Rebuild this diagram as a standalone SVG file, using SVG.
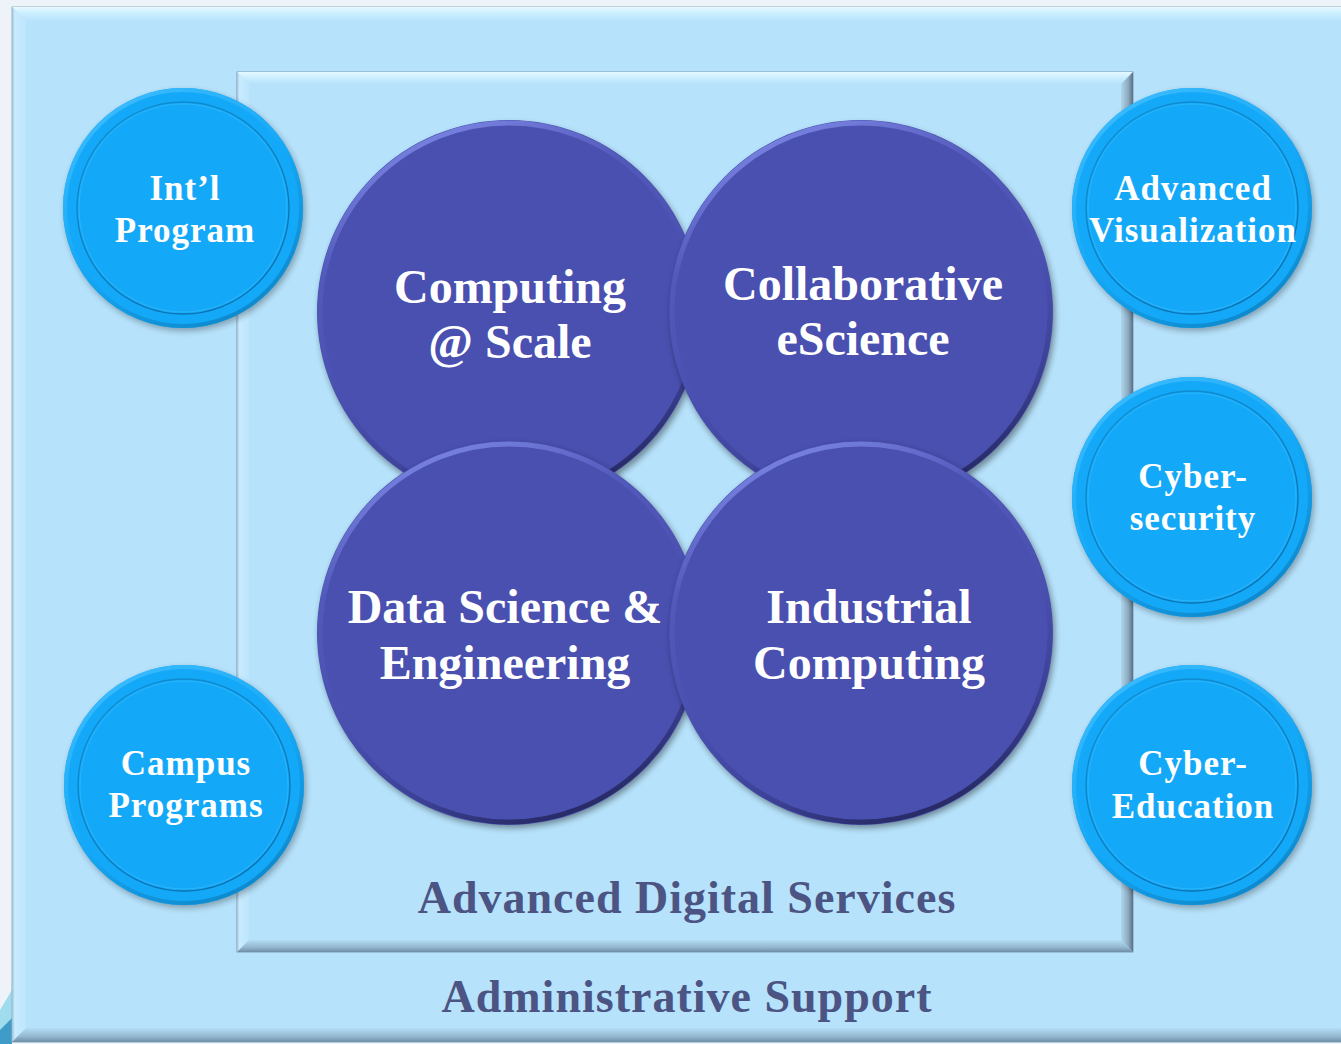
<svg xmlns="http://www.w3.org/2000/svg" width="1341" height="1044" viewBox="0 0 1341 1044">
<defs>
<style>
.big{font-family:"Liberation Serif","Times New Roman",serif;font-weight:bold;font-size:48px;fill:#ffffff;text-anchor:middle}
.small{font-family:"Liberation Serif","Times New Roman",serif;font-weight:bold;font-size:35px;fill:#ffffff;text-anchor:middle;letter-spacing:1px}
.lab{font-family:"Liberation Serif","Times New Roman",serif;font-weight:bold;font-size:46px;fill:#4b5482;text-anchor:middle;letter-spacing:1px}
.bigfill{fill:#4a50b0}
.smallfill{fill:#14a9f8}
</style>
<linearGradient id="topBand" x1="0" y1="0" x2="0" y2="1">
<stop offset="0" stop-color="#e6f8ff"/><stop offset="0.4" stop-color="#cdf0ff"/><stop offset="1" stop-color="#b8e2fb"/>
</linearGradient>
<linearGradient id="botBand" x1="0" y1="0" x2="0" y2="1">
<stop offset="0" stop-color="#b4dcf4"/><stop offset="0.6" stop-color="#93b8d0"/><stop offset="1" stop-color="#6f8ea6"/>
</linearGradient>
<linearGradient id="leftBand" x1="0" y1="0" x2="1" y2="0">
<stop offset="0" stop-color="#9fbfd4"/><stop offset="0.2" stop-color="#c8ecff"/><stop offset="1" stop-color="#bde5fc"/>
</linearGradient>
<linearGradient id="rightBand" x1="0" y1="0" x2="1" y2="0">
<stop offset="0" stop-color="#b0d6ec"/><stop offset="0.6" stop-color="#8caac0"/><stop offset="1" stop-color="#5a7088"/>
</linearGradient>
<linearGradient id="rimBig" x1="0.3" y1="0" x2="0.7" y2="1">
<stop offset="0" stop-color="#7a84e2"/><stop offset="0.25" stop-color="#5159ba"/><stop offset="0.55" stop-color="#4a50b0"/><stop offset="0.8" stop-color="#3c4196"/><stop offset="1" stop-color="#23275e"/>
</linearGradient>
<linearGradient id="rimSmall" x1="0.2" y1="0" x2="0.8" y2="1">
<stop offset="0" stop-color="#3cbcff"/><stop offset="0.5" stop-color="#16a8f6"/><stop offset="1" stop-color="#0d86c8"/>
</linearGradient>
<linearGradient id="ringSmall" x1="0.2" y1="0" x2="0.8" y2="1">
<stop offset="0" stop-color="#0f8fd4"/><stop offset="1" stop-color="#0a6fae"/>
</linearGradient>
<filter id="shadow" x="-20%" y="-20%" width="140%" height="140%">
<feGaussianBlur stdDeviation="3"/>
</filter>
</defs>

<rect x="0" y="0" width="1341" height="1044" fill="#eef3f9"/>
<polygon points="0,1010 12,990 12,1044 0,1044" fill="#9fdcee"/>
<polygon points="0,1030 12,1018 12,1044 0,1044" fill="#3f9cc8"/>

<g id="outer-panel">
<rect x="12" y="7" width="1340" height="1035" fill="#b6e2fb" stroke="#90aec2" stroke-width="1"/>
<polygon points="12,7 1345,7 1345,21 26,21" fill="url(#topBand)"/>
<polygon points="12,7 26,21 26,1028 12,1042" fill="url(#leftBand)"/>
<polygon points="12,1042 26,1028 1345,1028 1345,1042" fill="url(#botBand)"/>
<text class="lab" x="687" y="1012">Administrative Support</text>
</g>

<g id="inner-panel">
<rect x="237" y="72" width="896" height="880" fill="#b6e2fb" stroke="#7f9ab0" stroke-width="1"/>
<polygon points="237,72 1133,72 1121,84 249,84" fill="url(#topBand)"/>
<polygon points="237,72 249,84 249,940 237,952" fill="url(#leftBand)"/>
<polygon points="1133,72 1133,952 1121,940 1121,84" fill="url(#rightBand)"/>
<polygon points="237,952 1133,952 1121,940 249,940" fill="url(#botBand)"/>
<text class="lab" x="687" y="913">Advanced Digital Services</text>
</g>

<g id="connectors"/>

<g id="node-intl">
<circle cx="185" cy="211" r="120" fill="#000" opacity="0.3" filter="url(#shadow)"/>
<circle cx="183" cy="208" r="120" class="smallfill"/>
<circle cx="183" cy="208" r="118" fill="none" stroke="url(#rimSmall)" stroke-width="4"/>
<circle cx="183" cy="208" r="106" fill="none" stroke="url(#ringSmall)" stroke-width="1.4"/>
<circle cx="183" cy="208" r="104" fill="none" stroke="#2ab4fb" stroke-width="1"/>
<text class="small" x="185" y="200">Int’l</text>
<text class="small" x="185" y="242">Program</text>
</g>

<g id="node-campus">
<circle cx="186" cy="788" r="120" fill="#000" opacity="0.3" filter="url(#shadow)"/>
<circle cx="184" cy="785" r="120" class="smallfill"/>
<circle cx="184" cy="785" r="118" fill="none" stroke="url(#rimSmall)" stroke-width="4"/>
<circle cx="184" cy="785" r="106" fill="none" stroke="url(#ringSmall)" stroke-width="1.4"/>
<circle cx="184" cy="785" r="104" fill="none" stroke="#2ab4fb" stroke-width="1"/>
<text class="small" x="186" y="775">Campus</text>
<text class="small" x="186" y="817">Programs</text>
</g>

<g id="node-vis">
<circle cx="1194" cy="211" r="120" fill="#000" opacity="0.3" filter="url(#shadow)"/>
<circle cx="1192" cy="208" r="120" class="smallfill"/>
<circle cx="1192" cy="208" r="118" fill="none" stroke="url(#rimSmall)" stroke-width="4"/>
<circle cx="1192" cy="208" r="106" fill="none" stroke="url(#ringSmall)" stroke-width="1.4"/>
<circle cx="1192" cy="208" r="104" fill="none" stroke="#2ab4fb" stroke-width="1"/>
<text class="small" x="1193" y="200">Advanced</text>
<text class="small" x="1193" y="242">Visualization</text>
</g>

<g id="node-cybersecurity">
<circle cx="1194" cy="500" r="120" fill="#000" opacity="0.3" filter="url(#shadow)"/>
<circle cx="1192" cy="497" r="120" class="smallfill"/>
<circle cx="1192" cy="497" r="118" fill="none" stroke="url(#rimSmall)" stroke-width="4"/>
<circle cx="1192" cy="497" r="106" fill="none" stroke="url(#ringSmall)" stroke-width="1.4"/>
<circle cx="1192" cy="497" r="104" fill="none" stroke="#2ab4fb" stroke-width="1"/>
<text class="small" x="1193" y="488">Cyber-</text>
<text class="small" x="1193" y="530">security</text>
</g>

<g id="node-cybereducation">
<circle cx="1194" cy="788" r="120" fill="#000" opacity="0.3" filter="url(#shadow)"/>
<circle cx="1192" cy="785" r="120" class="smallfill"/>
<circle cx="1192" cy="785" r="118" fill="none" stroke="url(#rimSmall)" stroke-width="4"/>
<circle cx="1192" cy="785" r="106" fill="none" stroke="url(#ringSmall)" stroke-width="1.4"/>
<circle cx="1192" cy="785" r="104" fill="none" stroke="#2ab4fb" stroke-width="1"/>
<text class="small" x="1193" y="775">Cyber-</text>
<text class="small" x="1193" y="818">Education</text>
</g>

<g id="node-computing-scale">
<circle cx="511" cy="316" r="192" fill="#000" opacity="0.4" filter="url(#shadow)"/>
<circle cx="509" cy="312" r="192" class="bigfill"/>
<circle cx="509" cy="312" r="189" fill="none" stroke="url(#rimBig)" stroke-width="5"/>
<text class="big" x="510" y="303">Computing</text>
<text class="big" x="510" y="358">@ Scale</text>
</g>

<g id="node-collaborative">
<circle cx="863" cy="316" r="192" fill="#000" opacity="0.4" filter="url(#shadow)"/>
<circle cx="861" cy="312" r="192" class="bigfill"/>
<circle cx="861" cy="312" r="189" fill="none" stroke="url(#rimBig)" stroke-width="5"/>
<text class="big" x="863" y="300">Collaborative</text>
<text class="big" x="863" y="355">eScience</text>
</g>

<g id="node-data-science">
<circle cx="511" cy="636" r="192" fill="#000" opacity="0.4" filter="url(#shadow)"/>
<circle cx="509" cy="633" r="192" class="bigfill"/>
<circle cx="509" cy="633" r="189" fill="none" stroke="url(#rimBig)" stroke-width="5"/>
<text class="big" x="505" y="623">Data Science &amp;</text>
<text class="big" x="505" y="679">Engineering</text>
</g>

<g id="node-industrial">
<circle cx="863" cy="636" r="192" fill="#000" opacity="0.4" filter="url(#shadow)"/>
<circle cx="861" cy="633" r="192" class="bigfill"/>
<circle cx="861" cy="633" r="189" fill="none" stroke="url(#rimBig)" stroke-width="5"/>
<text class="big" x="869" y="623">Industrial</text>
<text class="big" x="869" y="679">Computing</text>
</g>
</svg>
